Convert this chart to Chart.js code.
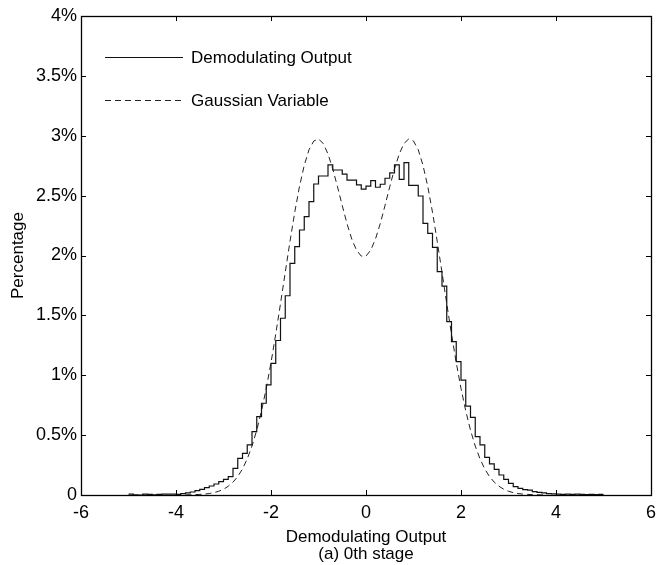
<!DOCTYPE html>
<html>
<head>
<meta charset="utf-8">
<script src="https://cdn.jsdelivr.net/npm/chart.js@4/dist/chart.umd.min.js"></script>
<style>
  html, body { margin: 0; padding: 0; background: #fff; }
  #wrap { width: 663px; height: 565px; }
</style>
</head>
<body>
<div id="wrap"><canvas id="histChart"></canvas></div>
<script>
// left edge of each histogram bin (width 0.1)
const binStart = [
  -5.0, -4.9, -4.8, -4.7, -4.6, -4.5, -4.4, -4.3, -4.2, -4.1,
  -4.0, -3.9, -3.8, -3.7, -3.6, -3.5, -3.4, -3.3, -3.2, -3.1,
  -3.0, -2.9, -2.8, -2.7, -2.6, -2.5, -2.4, -2.3, -2.2, -2.1,
  -2.0, -1.9, -1.8, -1.7, -1.6, -1.5, -1.4, -1.3, -1.2, -1.1,
  -1.0, -0.9, -0.8, -0.7, -0.6, -0.5, -0.4, -0.3, -0.2, -0.1,
  0.0, 0.1, 0.2, 0.3, 0.4, 0.5, 0.6, 0.7, 0.8, 0.9,
  1.0, 1.1, 1.2, 1.3, 1.4, 1.5, 1.6, 1.7, 1.8, 1.9,
  2.0, 2.1, 2.2, 2.3, 2.4, 2.5, 2.6, 2.7, 2.8, 2.9,
  3.0, 3.1, 3.2, 3.3, 3.4, 3.5, 3.6, 3.7, 3.8, 3.9,
  4.0, 4.1, 4.2, 4.3, 4.4, 4.5, 4.6, 4.7, 4.8, 4.9
]
const histEnd = 5.0
// demodulating output histogram, percent per bin
const demodPct = [
  0.008, 0.002, 0.000, 0.007, 0.006, 0.002, 0.005, 0.008, 0.008, 0.007,
  0.005, 0.012, 0.017, 0.025, 0.036, 0.047, 0.061, 0.075, 0.092, 0.111,
  0.131, 0.153, 0.223, 0.306, 0.348, 0.418, 0.529, 0.654, 0.766, 0.920,
  1.100, 1.290, 1.476, 1.664, 1.935, 2.074, 2.213, 2.324, 2.450, 2.597,
  2.664, 2.664, 2.756, 2.714, 2.714, 2.680, 2.630, 2.630, 2.590, 2.555,
  2.580, 2.625, 2.570, 2.595, 2.645, 2.690, 2.756, 2.636, 2.775, 2.585,
  2.585, 2.497, 2.269, 2.185, 2.068, 1.865, 1.745, 1.447, 1.280, 1.113,
  0.960, 0.743, 0.649, 0.487, 0.418, 0.315, 0.260, 0.214, 0.167, 0.131,
  0.097, 0.070, 0.056, 0.045, 0.040, 0.028, 0.022, 0.018, 0.012, 0.010,
  0.008, 0.006, 0.008, 0.005, 0.007, 0.006, 0.004, 0.006, 0.003, 0.005
]

// gaussian variable curve, sampled every 0.1
const gaussX = [
  -3.8, -3.7, -3.6, -3.5, -3.4, -3.3, -3.2, -3.1, -3.0, -2.9,
  -2.8, -2.7, -2.6, -2.5, -2.4, -2.3, -2.2, -2.1, -2.0, -1.9,
  -1.8, -1.7, -1.6, -1.5, -1.4, -1.3, -1.2, -1.1, -1.0, -0.9,
  -0.8, -0.7, -0.6, -0.5, -0.4, -0.3, -0.2, -0.1, 0.0, 0.1,
  0.2, 0.3, 0.4, 0.5, 0.6, 0.7, 0.8, 0.9, 1.0, 1.1,
  1.2, 1.3, 1.4, 1.5, 1.6, 1.7, 1.8, 1.9, 2.0, 2.1,
  2.2, 2.3, 2.4, 2.5, 2.6, 2.7, 2.8, 2.9, 3.0, 3.1,
  3.2, 3.3, 3.4, 3.5, 3.6, 3.7, 3.8
]
const gaussPct = [
  0.001, 0.002, 0.003, 0.005, 0.008, 0.012, 0.020, 0.031, 0.048, 0.073,
  0.107, 0.154, 0.218, 0.302, 0.409, 0.541, 0.702, 0.890, 1.105, 1.344,
  1.598, 1.859, 2.118, 2.361, 2.577, 2.753, 2.883, 2.956, 2.973, 2.936,
  2.848, 2.723, 2.574, 2.417, 2.266, 2.138, 2.045, 1.995, 1.995, 2.045,
  2.138, 2.266, 2.417, 2.574, 2.723, 2.848, 2.936, 2.973, 2.956, 2.883,
  2.753, 2.577, 2.361, 2.118, 1.859, 1.598, 1.344, 1.105, 0.890, 0.702,
  0.541, 0.409, 0.302, 0.218, 0.154, 0.107, 0.073, 0.048, 0.031, 0.020,
  0.012, 0.008, 0.005, 0.003, 0.002, 0.001, 0.000
]

const seriesNames = ['Demodulating Output', 'Gaussian Variable']
const xTickValues = [-6, -4, -2, 0, 2, 4, 6]
const yTickValues = [0, 0.5, 1, 1.5, 2, 2.5, 3, 3.5, 4]
const yTickLabels = ['0', '0.5%', '1%', '1.5%', '2%', '2.5%', '3%', '3.5%', '4%']

Chart.defaults.font.family = '"Liberation Sans", Arial, Helvetica, sans-serif'
Chart.defaults.font.size = 17
Chart.defaults.color = '#000'

var histPoints = binStart.map((x, i) => ({ x: x, y: demodPct[i] }))
histPoints.push({ x: histEnd, y: demodPct[demodPct.length - 1] }) //close last bin
var gaussPoints = gaussX.map((x, i) => ({ x: x, y: gaussPct[i] }))

// box + inward ticks, matlab style
const frameTicks = {
    id: 'frameTicks',
    afterDatasetsDraw(chart) {
        const { ctx, chartArea: a, scales } = chart
        const len = 5
        ctx.save()
        ctx.strokeStyle = '#000'
        ctx.lineWidth = 1
        ctx.beginPath()
        xTickValues.forEach(v => {
            const px = Math.round(scales.x.getPixelForValue(v)) + 0.5
            ctx.moveTo(px, a.bottom); ctx.lineTo(px, a.bottom - len)
            ctx.moveTo(px, a.top); ctx.lineTo(px, a.top + len)
        })
        yTickValues.forEach(v => {
            const py = Math.round(scales.y.getPixelForValue(v)) + 0.5
            ctx.moveTo(a.left, py); ctx.lineTo(a.left + len, py)
            ctx.moveTo(a.right, py); ctx.lineTo(a.right - len, py)
        })
        ctx.stroke()
        ctx.lineWidth = 1.3
        ctx.strokeRect(Math.round(a.left) + 0.5, Math.round(a.top) + 0.5,
            Math.round(a.right - a.left), Math.round(a.bottom - a.top))
        ctx.restore()
    }
}

// legend inside the plot, no box
const innerLegend = {
    id: 'innerLegend',
    afterDraw(chart) {
        const ctx = chart.ctx
        const rows = [57, 100]
        ctx.save()
        chart.data.datasets.forEach((ds, i) => {
            const y = rows[i] + 0.5
            ctx.strokeStyle = ds.borderColor
            ctx.lineWidth = ds.borderWidth
            ctx.setLineDash(ds.borderDash || [])
            ctx.beginPath()
            ctx.moveTo(105, y)
            ctx.lineTo(183, y)
            ctx.stroke()
            ctx.setLineDash([])
            ctx.fillStyle = '#000'
            ctx.font = '17px "Liberation Sans", Arial, sans-serif'
            ctx.textAlign = 'left'
            ctx.textBaseline = 'middle'
            ctx.fillText(ds.label, 191, y + 1)
        })
        ctx.restore()
    }
}

var ctx = document.getElementById('histChart').getContext('2d')
var histChart = new Chart(ctx, {
    type: 'line',
    data: {
        datasets: [{
            label: seriesNames[0],
            data: histPoints,
            stepped: 'before',
            borderColor: '#111',
            borderWidth: 1.2,
            pointRadius: 0,
            fill: false
        }, {
            label: seriesNames[1],
            data: gaussPoints,
            borderColor: '#222',
            borderWidth: 1,
            borderDash: [6, 4],
            pointRadius: 0,
            tension: 0,
            fill: false
        }]
    },
    options: {
        responsive: true,
        maintainAspectRatio: false,
        animation: false,
        events: [],
        layout: { padding: { left: 0, right: 10, top: 16, bottom: 0 } },
        plugins: {
            legend: { display: false },
            tooltip: { enabled: false }
        },
        scales: {
            x: {
                type: 'linear',
                min: -6,
                max: 6,
                grid: { display: false, drawTicks: false },
                border: { display: false },
                ticks: {
                    stepSize: 2,
                    padding: 7,
                    maxRotation: 0,
                    font: { size: 18 },
                    callback: v => String(v)
                },
                title: {
                    display: true,
                    text: ['Demodulating Output', '(a) 0th stage'],
                    font: { size: 17, lineHeight: 1 },
                    padding: { top: 0, bottom: 2.5 }
                },
                afterFit: s => { s.height = 70 }
            },
            y: {
                type: 'linear',
                min: 0,
                max: 4,
                grid: { display: false, drawTicks: false },
                border: { display: false },
                ticks: {
                    stepSize: 0.5,
                    padding: 4,
                    font: { size: 18 },
                    callback: v => yTickLabels[yTickValues.indexOf(v)]
                },
                title: {
                    display: true,
                    text: 'Percentage',
                    font: { size: 17, lineHeight: 1 },
                    padding: { top: 9.5, bottom: 0 }
                },
                afterFit: s => { s.width = 81 }
            }
        }
    },
    plugins: [frameTicks, innerLegend]
})
</script>
</body>
</html>
